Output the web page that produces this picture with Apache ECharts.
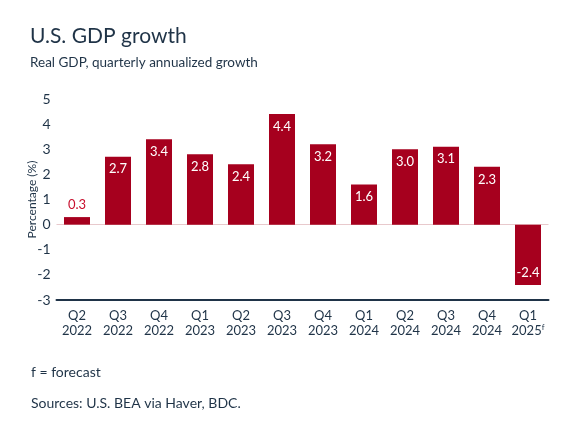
<!DOCTYPE html>
<html><head><meta charset="utf-8">
<script src="https://cdn.jsdelivr.net/npm/echarts@6/dist/echarts.min.js"></script>
<style>html,body{margin:0;padding:0;background:#fff}#c{width:575px;height:431px}</style>
</head><body><div id="c"></div>
<script>
var quarters = ['Q2','Q3','Q4','Q1','Q2','Q3','Q4','Q1','Q2','Q3','Q4','Q1'];
var years = ['2022','2022','2022','2023','2023','2023','2023','2024','2024','2024','2024','2025'];
var forecastFlags = [false,false,false,false,false,false,false,false,false,false,false,true];
var growth = [0.3, 2.7, 3.4, 2.8, 2.4, 4.4, 3.2, 1.6, 3.0, 3.1, 2.3, -2.4];
var yTicks = [5,4,3,2,1,0,-1,-2,-3];

var categories = quarters.map(function(q,i){ return q + '\n' + years[i] + (forecastFlags[i] ? 'f' : ''); });
var navy = '#1f3347';
var font = 'Lato, "Open Sans", sans-serif';
var chart = echarts.init(document.getElementById('c'));
chart.setOption({
  animation: false,
  backgroundColor: '#fff',
  title: [
    {text: 'U.S. GDP growth', left: 25, top: 21, textStyle: {fontFamily: font, fontSize: 21, fontWeight: 'normal', color: navy}},
    {text: 'Real GDP, quarterly annualized growth', left: 25, top: 51, textStyle: {fontFamily: font, fontSize: 13.5, fontWeight: 'normal', color: navy}},
    {text: 'f = forecast', left: 26, top: 360, textStyle: {fontFamily: font, fontSize: 14, fontWeight: 'normal', color: navy}},
    {text: 'Sources: U.S. BEA via Haver, BDC.', left: 26, top: 391, textStyle: {fontFamily: font, fontSize: 14, fontWeight: 'normal', color: navy}}
  ],
  grid: {left: 56.5, right: 26.5, top: 99, bottom: 131},
  xAxis: {
    type: 'category', data: categories,
    axisLine: {onZero: false, lineStyle: {color: navy, width: 2}},
    axisTick: {alignWithLabel: true, inside: true, length: 4, lineStyle: {color: navy}},
    axisLabel: {
      interval: 0, margin: 8, lineHeight: 15, fontFamily: font, fontSize: 13, color: navy,
      formatter: function(v){
        if (v.slice(-1) === 'f') return v.slice(0,-1) + '{f|f}';
        return v;
      },
      rich: {f: {fontSize: 8, color: navy, fontFamily: font, verticalAlign: 'top', padding:[0,0,6,0]}}
    }
  },
  yAxis: {
    type: 'value', min: yTicks[yTicks.length-1], max: yTicks[0], interval: 1,
    name: 'Percentage (%)', nameLocation: 'middle', nameGap: 18, nameMoveOverlap: false,
    nameTextStyle: {fontFamily: font, fontSize: 12, color: navy, padding: [0, 0, 0, 0]},
    axisLine: {show: false}, axisTick: {show: false}, splitLine: {show: false},
    axisLabel: {fontFamily: font, fontSize: 14, color: navy, margin: 6}
  },
  series: [{
    type: 'bar', barWidth: 26,
    data: growth.map(function(v){
      return {value: v, label: v < 0 ? {position: 'insideBottom', color: '#fff'} : (v < 1 ? {position: 'top', color: '#c8102e'} : {position: 'insideTop', color: '#fff'})};
    }),
    itemStyle: {color: '#a6001e'},
    label: {show: true, fontFamily: font, fontSize: 13, distance: 6, formatter: function(p){ return p.value.toFixed(1); }},
    markLine: {silent: true, symbol: 'none', label: {show: false}, lineStyle: {color: '#e8c9cc', width: 1, type: 'solid'}, data: [{yAxis: 0}], z: 1}
  }]
});
</script></body></html>
